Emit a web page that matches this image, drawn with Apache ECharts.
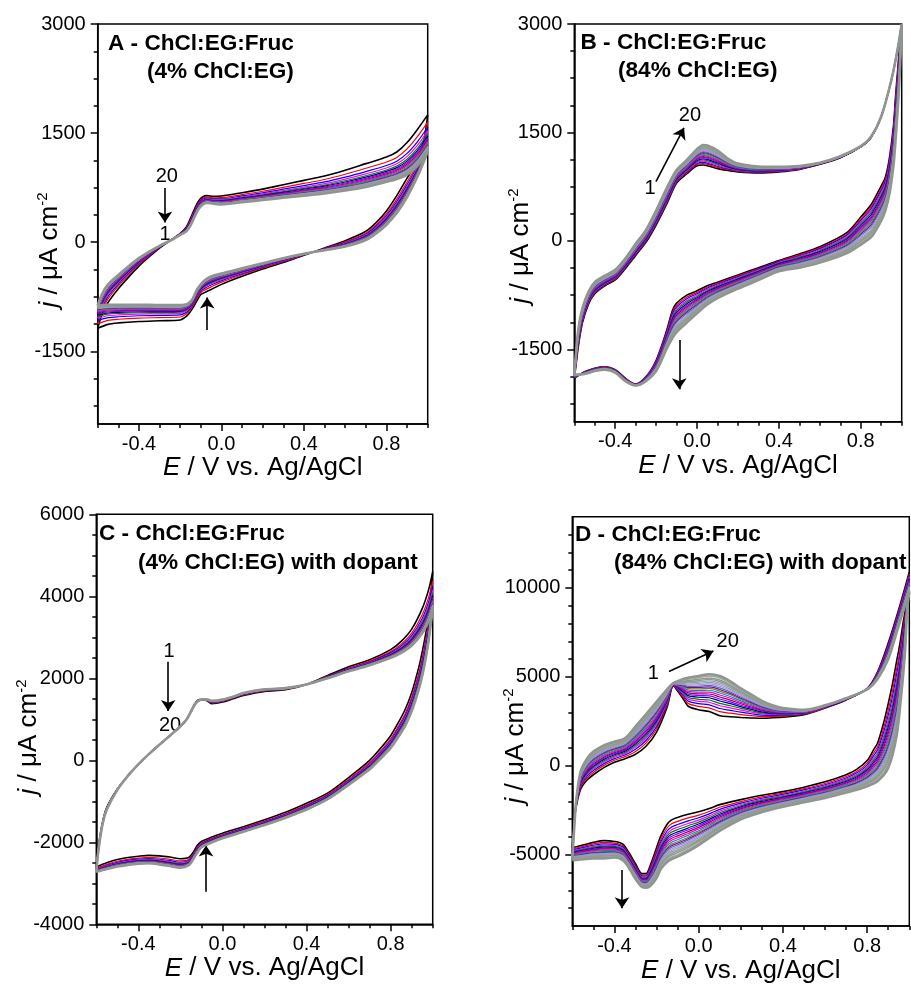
<!DOCTYPE html>
<html>
<head>
<meta charset="utf-8">
<script src="https://cdn.jsdelivr.net/npm/echarts@6/dist/echarts.min.js"></script>
<style>
  html, body { margin: 0; padding: 0; background: #fff; }
  #main { width: 911px; height: 985px; }
</style>
</head>
<body>
<div id="main"></div>
<script>
// ---- data (E in V, j in uA cm-2) ----
// panel A : forward (anodic) scan, cycle 1 and cycle 20
var aFwdE  = [-0.6,-0.58,-0.55,-0.5,-0.45,-0.4,-0.35,-0.3,-0.25,-0.2,-0.17,-0.15,-0.13,-0.11,-0.09,-0.07,-0.04,0,0.1,0.2,0.3,0.4,0.5,0.6,0.7,0.8,0.85,0.9,0.95,1.0];
var aFwd1  = [-1185,-1000,-830,-640,-480,-330,-200,-80,20,120,210,330,460,570,625,640,630,635,680,730,790,850,910,990,1080,1170,1240,1370,1550,1750];
var aFwd20 = [-870,-720,-580,-450,-330,-220,-130,-50,20,100,150,230,350,460,520,540,530,520,550,580,610,640,670,710,760,830,870,930,1050,1250];
// panel A : reverse scan
var aRevE  = [1.0,0.98,0.95,0.9,0.85,0.8,0.75,0.7,0.6,0.5,0.4,0.3,0.2,0.1,0.0,-0.05,-0.08,-0.1,-0.12,-0.14,-0.16,-0.18,-0.2,-0.3,-0.4,-0.5,-0.55,-0.6];
var aRev1  = [1750,1380,1120,880,640,430,270,150,20,-80,-180,-280,-370,-470,-580,-650,-690,-720,-810,-910,-990,-1040,-1070,-1080,-1090,-1110,-1130,-1185];
var aRev20 = [1250,1100,900,620,400,240,120,30,-60,-110,-160,-220,-290,-360,-430,-470,-520,-580,-660,-780,-840,-860,-865,-865,-860,-860,-860,-870];
var aSpacing = [0,0.2,0.34,0.44,0.52,0.58,0.63,0.68,0.72,0.76,0.79,0.82,0.85,0.87,0.89,0.91,0.93,0.95,0.975,1];

// panel B
var bFwdE  = [-0.6,-0.59,-0.58,-0.56,-0.53,-0.5,-0.45,-0.4,-0.35,-0.3,-0.25,-0.2,-0.15,-0.1,-0.05,0,0.03,0.05,0.1,0.15,0.2,0.3,0.4,0.5,0.6,0.7,0.8,0.85,0.9,0.95,0.98,1.0];
var bFwd1  = [-1900,-1680,-1450,-1130,-870,-730,-620,-540,-380,-200,-20,220,500,800,930,1040,1050,1040,1000,975,955,940,955,990,1060,1150,1300,1430,1720,2230,2650,3000];
var bFwd20 = [-1850,-1500,-1220,-930,-700,-570,-480,-400,-240,-40,150,420,720,980,1120,1270,1327,1320,1250,1140,1070,1030,1025,1035,1080,1170,1310,1440,1720,2230,2650,3000];
var bRevE  = [1.0,0.99,0.98,0.97,0.96,0.94,0.92,0.9,0.87,0.85,0.8,0.73,0.6,0.5,0.4,0.3,0.2,0.1,0.05,0.0,-0.05,-0.1,-0.12,-0.15,-0.2,-0.25,-0.3,-0.35,-0.4,-0.45,-0.5,-0.55,-0.6];
var bRev1  = [3000,2700,2350,2000,1600,1150,880,760,600,500,330,110,-80,-180,-270,-370,-470,-570,-620,-690,-750,-860,-960,-1250,-1650,-1880,-1980,-1900,-1780,-1740,-1760,-1810,-1900];
var bRev20 = [3000,2300,1800,1400,1050,650,420,280,130,50,-50,-170,-300,-370,-420,-540,-660,-790,-880,-1000,-1130,-1260,-1340,-1500,-1800,-1940,-2000,-1940,-1820,-1780,-1800,-1840,-1850];
var bSpacing = [0,0.07,0.13,0.19,0.25,0.31,0.37,0.42,0.47,0.52,0.57,0.62,0.67,0.72,0.77,0.81,0.86,0.9,0.95,1];

// panel C
var cFwdE  = [-0.6,-0.59,-0.57,-0.55,-0.5,-0.45,-0.4,-0.35,-0.3,-0.25,-0.2,-0.17,-0.15,-0.13,-0.11,-0.09,-0.07,-0.05,0,0.05,0.1,0.2,0.3,0.4,0.5,0.6,0.7,0.8,0.85,0.9,0.95,0.98,1.0];
var cFwd1  = [-2600,-2100,-1500,-1150,-700,-380,-100,150,380,600,830,1000,1200,1390,1480,1480,1440,1380,1420,1500,1580,1680,1720,1850,2070,2280,2450,2700,2900,3200,3700,4150,4600];
var cFwd20 = [-2720,-2200,-1550,-1200,-720,-380,-100,150,380,600,830,1000,1180,1370,1460,1490,1480,1450,1480,1550,1640,1730,1760,1850,2000,2170,2320,2500,2620,2800,3100,3400,3700];
var cRevE  = [1.0,0.99,0.98,0.96,0.94,0.92,0.9,0.87,0.84,0.8,0.75,0.7,0.6,0.5,0.4,0.3,0.2,0.1,0.0,-0.05,-0.1,-0.12,-0.14,-0.16,-0.2,-0.25,-0.3,-0.35,-0.4,-0.45,-0.5,-0.55,-0.6];
var cRev1  = [4600,4000,3500,2900,2400,2000,1650,1250,950,600,280,0,-420,-800,-1050,-1270,-1450,-1620,-1780,-1870,-1980,-2080,-2250,-2370,-2400,-2360,-2330,-2320,-2340,-2370,-2420,-2500,-2600];
var cRev20 = [3700,3300,2900,2300,1850,1500,1200,850,600,300,30,-220,-600,-950,-1200,-1400,-1580,-1740,-1900,-2000,-2120,-2250,-2420,-2560,-2620,-2580,-2540,-2510,-2520,-2550,-2590,-2650,-2720];
var cSpacing = [0,0.25,0.4,0.5,0.58,0.64,0.7,0.74,0.78,0.81,0.84,0.87,0.89,0.91,0.93,0.945,0.96,0.975,0.99,1];

// panel D
var dFwdE  = [-0.6,-0.59,-0.58,-0.56,-0.53,-0.5,-0.45,-0.4,-0.35,-0.3,-0.25,-0.2,-0.15,-0.12,-0.1,-0.07,-0.05,0,0.05,0.1,0.15,0.2,0.25,0.3,0.35,0.4,0.5,0.6,0.7,0.8,0.85,0.9,0.95,1.0];
var dFwd1  = [-4600,-3000,-2200,-1300,-800,-500,-100,200,400,650,1100,1900,3300,4500,4200,3700,3350,3150,3050,2820,2760,2720,2690,2670,2700,2740,2870,3250,3700,4350,5300,6900,8800,10900];
var dFwd20 = [-5300,-3300,-1800,-300,400,800,1150,1350,1550,2200,2900,3600,4300,4650,4750,4890,4950,5050,5150,5050,4750,4350,4000,3650,3400,3250,3150,3400,3800,4300,4900,6000,7900,9800];
var dRevE  = [1.0,0.99,0.98,0.97,0.96,0.95,0.94,0.92,0.9,0.88,0.85,0.83,0.8,0.75,0.7,0.6,0.5,0.4,0.3,0.2,0.1,0.05,0.0,-0.05,-0.1,-0.13,-0.15,-0.18,-0.2,-0.23,-0.25,-0.27,-0.3,-0.33,-0.36,-0.4,-0.45,-0.5,-0.55,-0.6];
var dRev1  = [10900,9700,8700,8000,7200,6500,5900,4600,3500,2500,1300,900,300,-200,-500,-900,-1200,-1450,-1650,-1900,-2180,-2400,-2580,-2720,-2900,-3050,-3280,-3950,-4600,-5600,-6050,-6050,-5500,-4900,-4400,-4250,-4200,-4300,-4450,-4600];
var dRev20 = [9800,8800,6500,5000,3800,2600,1700,600,-100,-500,-850,-1000,-1150,-1350,-1500,-1800,-2050,-2300,-2600,-3000,-3650,-4050,-4450,-4800,-5100,-5250,-5400,-5800,-6300,-6750,-6850,-6800,-6350,-5750,-5300,-5150,-5200,-5200,-5250,-5300];
var dSpacing = [0,0.1,0.18,0.25,0.31,0.37,0.42,0.47,0.52,0.57,0.62,0.66,0.7,0.74,0.78,0.82,0.86,0.9,0.95,1];

// axis ticks
var xMajor = [-0.4, 0, 0.4, 0.8];
var xMinor = [-0.6, -0.5, -0.3, -0.2, -0.1, 0.1, 0.2, 0.3, 0.5, 0.6, 0.7, 0.9, 1.0];
var abMajor = [-1500, 0, 1500, 3000];
var abMinor = [-2250, -1875, -1125, -750, -375, 375, 750, 1125, 1875, 2250, 2625];
var cMajor = [-4000, -2000, 0, 2000, 4000, 6000];
var cMinor = [-3500, -3000, -2500, -1500, -1000, -500, 500, 1000, 1500, 2500, 3000, 3500, 4500, 5000, 5500];
var dMajor = [-5000, 0, 5000, 10000];
var dMinor = [-8000, -7000, -6000, -4000, -3000, -2000, -1000, 1000, 2000, 3000, 4000, 6000, 7000, 8000, 9000, 11000, 12000, 13000];

// cycle colours (Origin-like)
var cycleColors = ['#000000','#ff0000','#0000ff','#ff00ff','#008000','#000080','#8000ff','#800080',
  '#ff0080','#0080ff','#808000','#8000c0','#408080','#c080ff','#80a0c0','#a0a0a0','#909890','#8c9c8c','#a0a8a0','#8f958f'];
var cycleWidths = [1.6,1.2,1.2,1.2,1.2,1.2,1.2,1.2,1.2,1.2,1.2,1.2,1.2,1.2,1.2,1.4,1.4,1.5,1.6,2.6];

var FONT = '"Liberation Sans", Arial, Helvetica, sans-serif';

var panels = [
  { grid: {left: 97.7, top: 24, width: 330, height: 400}, yMin: -2500, yMax: 3000, yMajor: abMajor, yMinor: abMinor, nameGap: 31,
    fE: aFwdE, f1: aFwd1, f20: aFwd20, rE: aRevE, r1: aRev1, r20: aRev20, w: aSpacing,
    title: ['A - ChCl:EG:Fruc', '(4% ChCl:EG)'], t1: [108, 43.5], t2: [147, 71.5], ytitle: [50, 250],
    notes: [['20', -0.265, 900], ['1', -0.274, 99]],
    arrows: [[[-0.274, 745], [-0.274, 270]], [[-0.069, -1208], [-0.069, -760]]] },
  { grid: {left: 574.3, top: 24, width: 327.4, height: 397.7}, yMin: -2500, yMax: 3000, yMajor: abMajor, yMinor: abMinor, nameGap: 31,
    fE: bFwdE, f1: bFwd1, f20: bFwd20, rE: bRevE, r1: bRev1, r20: bRev20, w: bSpacing,
    title: ['B - ChCl:EG:Fruc', '(84% ChCl:EG)'], t1: [580.5, 43], t2: [618, 71], ytitle: [521, 246],
    notes: [['20', -0.035, 1741], ['1', -0.23, 728]],
    arrows: [[[-0.201, 819], [-0.064, 1565]], [[-0.087, -1370], [-0.087, -2050]]] },
  { grid: {left: 96.3, top: 514.3, width: 336.4, height: 410}, yMin: -4000, yMax: 6000, yMajor: cMajor, yMinor: cMinor, nameGap: 31,
    fE: cFwdE, f1: cFwd1, f20: cFwd20, rE: cRevE, r1: cRev1, r20: cRev20, w: cSpacing,
    title: ['C - ChCl:EG:Fruc', '(4% ChCl:EG) with dopant'], t1: [99, 533.5], t2: [138, 562.5], ytitle: [29, 737],
    notes: [['1', -0.254, 2649], ['20', -0.249, 861]],
    arrows: [[[-0.258, 2405], [-0.258, 1200]], [[-0.078, -3205], [-0.078, -2080]]] },
  { grid: {left: 572.3, top: 516.7, width: 337, height: 412.3}, yMin: -9000, yMax: 14000, yMajor: dMajor, yMinor: dMinor, nameGap: 32,
    fE: dFwdE, f1: dFwd1, f20: dFwd20, rE: dRevE, r1: dRev1, r20: dRev20, w: dSpacing,
    title: ['D - ChCl:EG:Fruc', '(84% ChCl:EG) with dopant'], t1: [575, 534.5], t2: [614, 563], ytitle: [516, 746],
    notes: [['1', -0.215, 5170], ['20', 0.138, 6972]],
    arrows: [[[-0.141, 5298], [0.07, 6450]], [[-0.364, -5858], [-0.364, -8000]]] }
];

var grids = [], xAxes = [], yAxes = [], series = [], graphics = [];

panels.forEach(function (p, g) {
  grids.push(Object.assign({show: true, borderColor: '#000', borderWidth: 1.5, backgroundColor: 'transparent'}, p.grid));

  xAxes.push({
    gridIndex: g, type: 'value', position: 'bottom', min: -0.6, max: 1.0,
    name: '{i|E} / V vs. Ag/AgCl', nameLocation: 'middle', nameGap: p.nameGap, nameMoveOverlap: false,
    nameTextStyle: {fontSize: 26, fontFamily: FONT, color: '#000',
      rich: {i: {fontSize: 26, fontFamily: FONT, fontStyle: 'italic', color: '#000'}}},
    axisLine: {show: true, onZero: false, lineStyle: {color: '#000', width: 1.5}},
    axisTick: {show: true, customValues: xMajor, length: 7, lineStyle: {color: '#000', width: 1.5}},
    axisLabel: {customValues: xMajor, fontSize: 20, fontFamily: FONT, color: '#000', margin: 10,
      formatter: function (v) { return v.toFixed(1); }},
    splitLine: {show: false}
  });
  xAxes.push({
    gridIndex: g, type: 'value', position: 'bottom', min: -0.6, max: 1.0,
    axisLine: {show: false, onZero: false},
    axisTick: {show: true, customValues: xMinor, length: 4, lineStyle: {color: '#000', width: 1.5}},
    axisLabel: {show: false}, splitLine: {show: false}
  });
  yAxes.push({
    gridIndex: g, type: 'value', position: 'left', min: p.yMin, max: p.yMax,
    axisLine: {show: true, onZero: false, lineStyle: {color: '#000', width: 1.5}},
    axisTick: {show: true, customValues: p.yMajor, length: 7, lineStyle: {color: '#000', width: 1.5}},
    axisLabel: {customValues: p.yMajor, fontSize: 20, fontFamily: FONT, color: '#000', margin: 12,
      formatter: function (v) { return String(v); }},
    splitLine: {show: false}
  });
  yAxes.push({
    gridIndex: g, type: 'value', position: 'left', min: p.yMin, max: p.yMax,
    axisLine: {show: false, onZero: false},
    axisTick: {show: true, customValues: p.yMinor, length: 4, lineStyle: {color: '#000', width: 1.5}},
    axisLabel: {show: false}, splitLine: {show: false}
  });

  // twenty cycles, each a closed loop: forward scan then reverse scan
  p.w.forEach(function (f, k) {
    var data = [];
    p.fE.forEach(function (e, i) { data.push([e, p.f1[i] + f * (p.f20[i] - p.f1[i])]); });
    p.rE.forEach(function (e, i) { if (i > 0) data.push([e, p.r1[i] + f * (p.r20[i] - p.r1[i])]); });
    series.push({
      type: 'line', name: 'cycle ' + (k + 1), xAxisIndex: 2 * g, yAxisIndex: 2 * g,
      data: data, showSymbol: false, smooth: 0.3, silent: true, animation: false,
      lineStyle: {color: cycleColors[k], width: cycleWidths[k]},
      itemStyle: {color: cycleColors[k]}, z: 2 + k
    });
  });

  // arrows and cycle numbers
  series.push({
    type: 'line', name: 'notes' + g, xAxisIndex: 2 * g, yAxisIndex: 2 * g, data: [], silent: true, animation: false,
    markLine: {
      silent: true, animation: false, symbol: ['none', 'arrow'], symbolSize: 11,
      label: {show: false}, lineStyle: {color: '#000', width: 1.6, type: 'solid'},
      emphasis: {disabled: true},
      data: p.arrows.map(function (a) { return [{coord: a[0]}, {coord: a[1]}]; })
    },
    markPoint: {
      silent: true, animation: false, symbol: 'rect', symbolSize: 1,
      itemStyle: {color: 'rgba(0,0,0,0)'},
      label: {show: true, position: 'inside', formatter: '{b}', fontSize: 20, fontFamily: FONT, color: '#000'},
      data: p.notes.map(function (n) { return {name: n[0], coord: [n[1], n[2]]}; })
    },
    z: 30
  });

  graphics.push({type: 'text', x: p.t1[0], y: p.t1[1], z: 50,
    style: {text: p.title[0], fontSize: 22.6, fontWeight: 'bold', fontFamily: FONT, fill: '#000', align: 'left', verticalAlign: 'middle'}});
  graphics.push({type: 'text', x: p.t2[0], y: p.t2[1], z: 50,
    style: {text: p.title[1], fontSize: 22.6, fontWeight: 'bold', fontFamily: FONT, fill: '#000', align: 'left', verticalAlign: 'middle'}});
  graphics.push({type: 'text', x: p.ytitle[0], y: p.ytitle[1], rotation: Math.PI / 2, z: 50,
    style: {text: '{i|j} / \u03bcA cm{s|-2}', fontSize: 26, fontFamily: FONT, fill: '#000', align: 'center', verticalAlign: 'middle',
      rich: {i: {fontSize: 26, fontFamily: FONT, fontStyle: 'italic', fill: '#000'},
             s: {fontSize: 15, fontFamily: FONT, fill: '#000', verticalAlign: 'top', lineHeight: 30}}}});
});

var myChart = echarts.init(document.getElementById('main'));
var option = {
  backgroundColor: '#fff',
  animation: false,
  grid: grids,
  xAxis: xAxes,
  yAxis: yAxes,
  series: series,
  graphic: graphics
};
myChart.setOption(option);
</script>
</body>
</html>
